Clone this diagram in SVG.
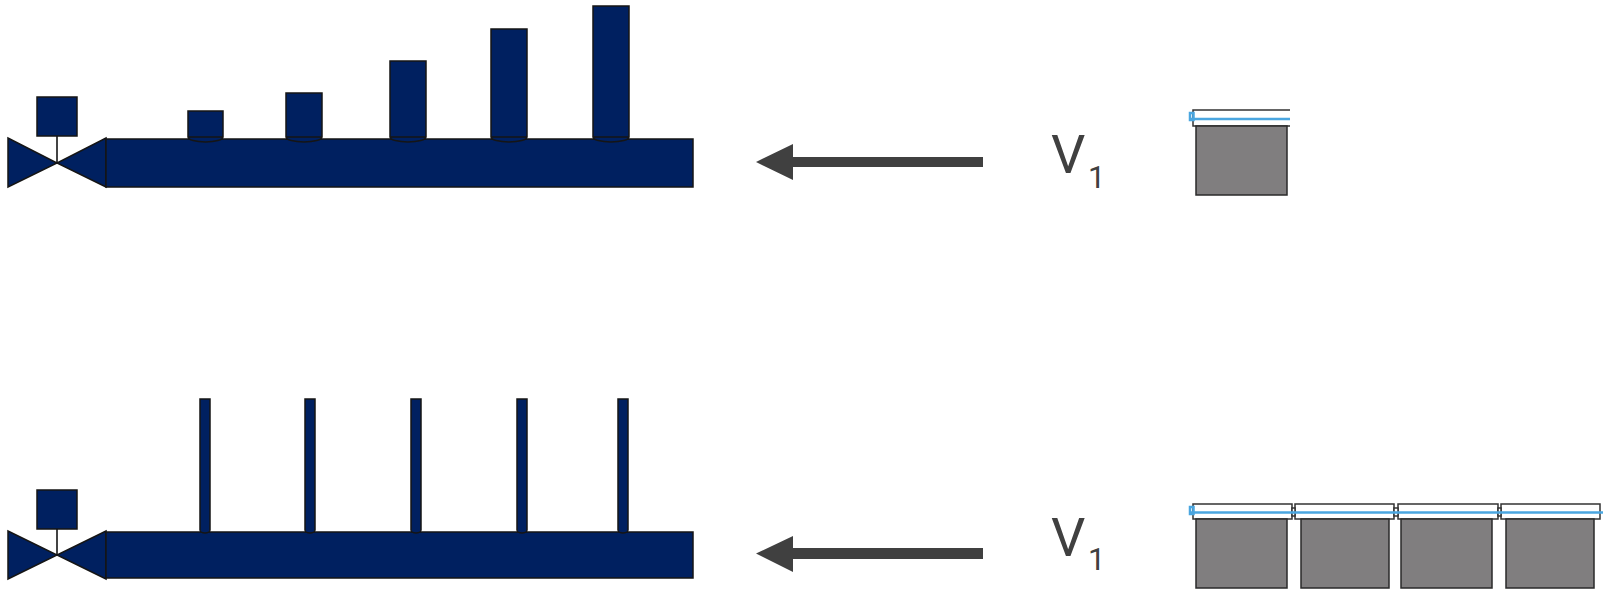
<svg xmlns="http://www.w3.org/2000/svg" width="1603" height="589" viewBox="0 0 1603 589">
  <style>
    .navy { fill: #002060; stroke: #151515; stroke-width: 1.5; }
    .stem { stroke: #444; stroke-width: 2; }
    .arrow { fill: #404040; }
    .label { fill: #404040; font-family: Roboto, "Liberation Sans", sans-serif; }
    .lid { fill: #ffffff; stroke: #333; stroke-width: 1.5; }
    .water { stroke: #4aa6e0; stroke-width: 2.5; fill: none; }
    .body { fill: #807e7f; stroke: #2a2a2a; stroke-width: 1.5; }
  </style>

  <!-- upper manifold: valve, header pipe, stepped risers -->
  <g id="valve-top">
    <line class="stem" x1="57" y1="136" x2="57" y2="163"/>
    <rect class="navy" x="37" y="97" width="40" height="39"/>
    <polygon class="navy" points="8,138 8,187 57,163"/>
    <polygon class="navy" points="106,138 106,187 57,163"/>
  </g>
  <g id="pipe-top">
    <rect class="navy" x="106" y="139" width="587" height="48"/>
    <path class="navy" d="M188,137 V111 H223 V137 A17.5,5 0 0 1 188,137 Z M188,137 H223"/>
    <path class="navy" d="M286,137 V93 H322 V137 A18,5 0 0 1 286,137 Z M286,137 H322"/>
    <path class="navy" d="M390,137 V61 H426 V137 A18,5 0 0 1 390,137 Z M390,137 H426"/>
    <path class="navy" d="M491,137 V29 H527 V137 A18,5 0 0 1 491,137 Z M491,137 H527"/>
    <path class="navy" d="M593,137 V6 H629 V137 A18,5 0 0 1 593,137 Z M593,137 H629"/>
  </g>

  <!-- lower manifold: valve, header pipe, thin risers -->
  <g id="valve-bottom">
    <line class="stem" x1="57" y1="529" x2="57" y2="555"/>
    <rect class="navy" x="37" y="490" width="40" height="39"/>
    <polygon class="navy" points="8,531 8,579 57,555"/>
    <polygon class="navy" points="106,531 106,579 57,555"/>
  </g>
  <g id="pipe-bottom">
    <rect class="navy" x="106" y="532" width="587" height="46"/>
    <path class="navy" d="M200,399 H210 V530 A5,3 0 0 1 200,530 Z"/>
    <path class="navy" d="M305,399 H315 V530 A5,3 0 0 1 305,530 Z"/>
    <path class="navy" d="M411,399 H421 V530 A5,3 0 0 1 411,530 Z"/>
    <path class="navy" d="M517,399 H527 V530 A5,3 0 0 1 517,530 Z"/>
    <path class="navy" d="M618,399 H628 V530 A5,3 0 0 1 618,530 Z"/>
  </g>

  <!-- flow arrows -->
  <g id="connectors">
    <polygon class="arrow" points="756,162 793,144 793,157 983,157 983,167 793,167 793,180"/>
    <polygon class="arrow" points="756,553.5 793,536 793,548 983,548 983,559 793,559 793,572"/>
  </g>

  <!-- volume labels -->
  <g id="label-top">
    <text class="label" x="1051" y="173" font-size="54">V</text>
    <text class="label" x="1088" y="188" font-size="31">1</text>
  </g>
  <g id="label-bottom">
    <text class="label" x="1051" y="556" font-size="54">V</text>
    <text class="label" x="1088" y="570" font-size="31">1</text>
  </g>

  <!-- single tank -->
  <g id="tank-top">
    <path class="lid" d="M1290,110 H1193 V126 H1290"/>
    <line class="water" x1="1191" y1="119" x2="1290" y2="119"/>
    <rect class="water" x="1190" y="113" width="3.5" height="7" stroke-width="1.5"/>
    <rect class="body" x="1196" y="126" width="91" height="69"/>
  </g>

  <!-- row of tanks -->
  <g id="tanks-bottom">
    <rect class="lid" x="1193" y="504" width="99" height="15"/>
    <rect class="lid" x="1295" y="504" width="99" height="15"/>
    <rect class="lid" x="1398" y="504" width="100" height="15"/>
    <rect class="lid" x="1501" y="504" width="99" height="15"/>
    <rect class="lid" x="1292" y="508" width="3" height="8"/>
    <rect class="lid" x="1394" y="508" width="4" height="8"/>
    <rect class="lid" x="1498" y="508" width="3" height="8"/>
    <line class="water" x1="1191" y1="512.5" x2="1603" y2="512.5"/>
    <rect class="water" x="1190" y="507" width="3.5" height="7" stroke-width="1.5"/>
    <rect class="body" x="1196" y="519" width="91" height="69"/>
    <rect class="body" x="1301" y="519" width="88" height="69"/>
    <rect class="body" x="1401" y="519" width="91" height="69"/>
    <rect class="body" x="1506" y="519" width="88" height="69"/>
  </g>
</svg>
